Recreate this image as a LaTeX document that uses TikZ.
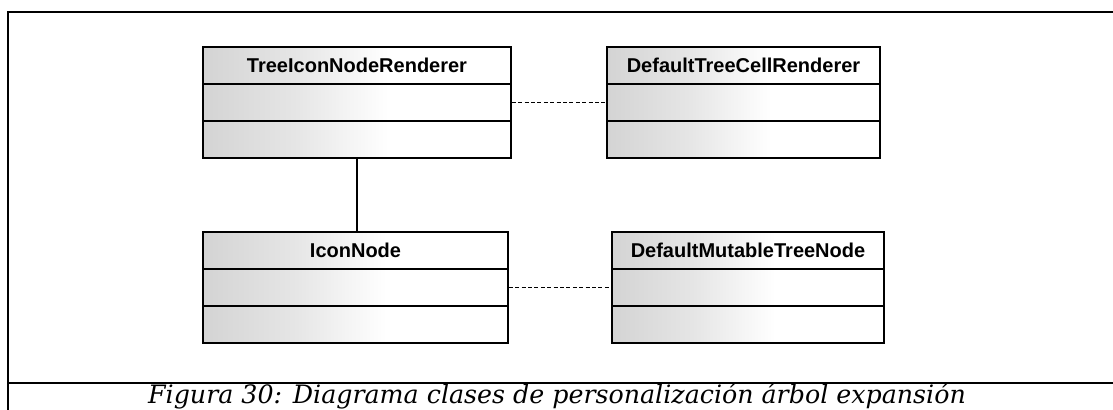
\documentclass[tikz,border=0pt]{standalone}
\usepackage{fontspec}
\setmainfont{DejaVu Serif}
\newfontfamily\boxfont{Liberation Sans}
\usetikzlibrary{calc}

% halftone-like grey that fades out towards the right of each class box
\pgfdeclarehorizontalshading{stipple}{100bp}{color(0bp)=(black!17); color(25bp)=(black!17); color(40bp)=(black!10); color(55bp)=(white); color(100bp)=(white)}

\tikzset{
  classbox/.style={draw=black, line width=0.8pt, rectangle, inner sep=0pt,
    minimum width=#1, minimum height=55.5pt,
    path picture={
      \shade[shading=stipple] (path picture bounding box.south west) rectangle (path picture bounding box.north east);
      \draw[line width=0.8pt]
        ($(path picture bounding box.north west)!1/3!(path picture bounding box.south west)$) --
        ($(path picture bounding box.north east)!1/3!(path picture bounding box.south east)$)
        ($(path picture bounding box.north west)!2/3!(path picture bounding box.south west)$) --
        ($(path picture bounding box.north east)!2/3!(path picture bounding box.south east)$);
    }},
  classname/.style={inner sep=0pt, font=\boxfont\bfseries\fontsize{10pt}{12pt}\selectfont},
  dependency/.style={line width=0.5pt, dash pattern=on 2pt off 1.2pt},
  association/.style={line width=0.8pt},
  frameline/.style={line width=1.4pt},
  captiontext/.style={inner sep=0pt, anchor=base, font=\itshape\fontsize{12.65pt}{14pt}\selectfont}
}

\begin{document}
\begin{tikzpicture}[x=0.5pt, y=-0.5pt]
  \useasboundingbox (0,0) rectangle (1113,410);

  % figure frame
  \draw[frameline] (1113,12) -- (8,12) -- (8,410);
  \draw[frameline] (8,383) -- (1113,383);

  % classes
  \node[classbox=154pt]   (b1) at (357,102.5)   {};
  \node[classbox=136.5pt] (b2) at (743.5,102.5) {};
  \node[classbox=152.5pt] (b3) at (355.5,287.5) {};
  \node[classbox=136pt]   (b4) at (748,287.5)   {};

  \node[classname] (n1) at ($(b1.north)!1/6!(b1.south)$) {TreeIconNodeRenderer};
  \node[classname] (n2) at ($(b2.north)!1/6!(b2.south)$) {DefaultTreeCellRenderer};
  \node[classname] (n3) at ($(b3.north)!1/6!(b3.south)$) {IconNode};
  \node[classname] (n4) at ($(b4.north)!1/6!(b4.south)$) {DefaultMutableTreeNode};

  % relations
  \draw[dependency] (b1.east) -- (b2.west);
  \draw[association] (b1.south) -- (b1.south |- b3.north);
  \draw[dependency] (b3.east) -- (b4.west);

  % caption
  \node[captiontext] (cap) at (557,404) {Figura 30: Diagrama clases de personalización árbol expansión};
\end{tikzpicture}
\end{document}
